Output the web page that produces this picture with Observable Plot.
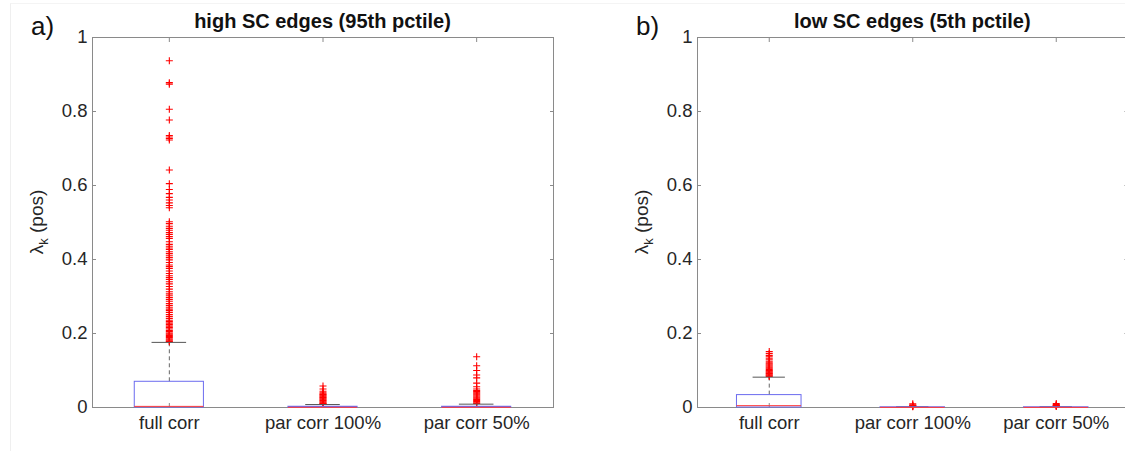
<!DOCTYPE html>
<html>
<head>
<meta charset="utf-8">
<script src="https://cdn.jsdelivr.net/npm/d3@7"></script>
<script src="https://cdn.jsdelivr.net/npm/@observablehq/plot@0.6"></script>
<style>
  html, body { margin: 0; padding: 0; background: #fff; overflow: hidden; width: 1125px; height: 451px; }
  #wrap { position: relative; width: 1125px; height: 451px; overflow: hidden; background: #fff; }
  #edge { position: absolute; left: 10px; top: 3px; right: 0; bottom: 0; border-left: 1px solid #efefef; border-top: 1px solid #f4f4f4; }
  #pa { position: absolute; left: 0; top: 0; width: 570px; height: 451px; }
  #pb { position: absolute; left: 560px; top: 0; width: 580px; height: 451px; }
  #pa svg, #pb svg { max-width: none !important; height: 451px !important; }
  svg g[aria-label="y-axis tick"], svg g[aria-label="x-axis tick"] { stroke: #8a8a8a; }
</style>
</head>
<body>
<div id="wrap"><div id="edge"></div><div id="pa"></div><div id="pb"></div></div>
<script>
// ---------- data ----------
const categories = ["full corr", "par corr 100%", "par corr 50%"];
const yTicks = [0, 0.2, 0.4, 0.6, 0.8, 1];

// panel a: high SC edges
const titleA = "high SC edges (95th pctile)";
const tagA = "a)";
const q1A = [0, 0, 0];
const medianA = [0.003, 0.0005, 0.0005];
const q3A = [0.0695, 0.002, 0.002];
const whiskerLoA = [0, 0, 0];
const whiskerHiA = [0.176, 0.008, 0.009];
const outliersFullA = [0.937, 0.878, 0.874, 0.806, 0.777, 0.735, 0.731, 0.727, 0.723, 0.642, 0.605, 0.589, 0.578, 0.568, 0.561, 0.553, 0.546, 0.540,
  0.502, 0.497, 0.490, 0.484, 0.479, 0.473, 0.468, 0.462, 0.457, 0.448, 0.441, 0.436, 0.431, 0.427, 0.421, 0.416, 0.410, 0.405, 0.399, 0.392,
  0.385, 0.381, 0.376, 0.369, 0.362, 0.356, 0.351, 0.346, 0.340, 0.334, 0.327, 0.320, 0.313, 0.307, 0.302, 0.297, 0.292, 0.287, 0.281, 0.276,
  0.271, 0.266, 0.262, 0.257, 0.251, 0.246, 0.241, 0.236, 0.232, 0.228, 0.224, 0.220, 0.216, 0.212, 0.208, 0.205, 0.201, 0.198, 0.195, 0.192,
  0.189, 0.186, 0.183, 0.180, 0.178];
const outliersPar100A = [0.058, 0.050, 0.044, 0.040, 0.037, 0.035, 0.033, 0.031, 0.029, 0.027, 0.025, 0.023, 0.021, 0.019, 0.017, 0.015, 0.013, 0.011, 0.010];
const outliersPar50A = [0.137, 0.113, 0.100, 0.088, 0.080, 0.066, 0.056, 0.050, 0.046, 0.043, 0.040, 0.037, 0.034, 0.031, 0.028, 0.025, 0.022, 0.019, 0.016, 0.013, 0.011];

// panel b: low SC edges
const titleB = "low SC edges (5th pctile)";
const tagB = "b)";
const q1B = [0, 0, 0];
const medianB = [0.005, 0.0003, 0.0003];
const q3B = [0.0335, 0.0006, 0.0006];
const whiskerLoB = [0, 0, 0];
const whiskerHiB = [0.082, 0.002, 0.002];
const outliersFullB = [0.151, 0.146, 0.141, 0.137, 0.133, 0.129, 0.125, 0.121, 0.118, 0.115, 0.112, 0.109, 0.106, 0.103, 0.100, 0.098, 0.096, 0.094, 0.092, 0.090, 0.088, 0.086, 0.084];
const outliersPar100B = [0.010, 0.007, 0.005, 0.004, 0.003, 0.002];
const outliersPar50B = [0.011, 0.008, 0.006, 0.005, 0.004, 0.003];

// ---------- styling ----------
const axisColor = "#8a8a8a";
const textColor = "#262626";
const boxColor = "#6b6bef";
const medianColor = "#ff3b3b";
const whiskerColor = "#666";
const capColor = "#555";
const outlierColor = "#ff0000";
const boxHalf = 0.225;
const capHalf = 0.1125;
const font = "'Liberation Sans', Arial, Helvetica, sans-serif";
const tickFont = 18.5;
const titleFont = 20;
const H = 451, MT = 37, MB = 44;

function panel(cfg) {
  const boxes = categories.map((c, i) => ({
    pos: i + 1, q1: cfg.q1[i], med: cfg.median[i], q3: cfg.q3[i], lo: cfg.lo[i], hi: cfg.hi[i]
  }));
  const outs = cfg.outliers.flatMap((vals, i) => vals.map(v => ({pos: i + 1, value: v})));
  const svg = Plot.plot({
    width: cfg.width,
    height: H,
    marginLeft: cfg.marginLeft,
    marginRight: cfg.marginRight,
    marginTop: MT,
    marginBottom: MB,
    x: {domain: [0.5, 3.5]},
    y: {domain: [0, 1]},
    style: {fontFamily: font, fontSize: tickFont + "px", color: textColor, background: "transparent", overflow: "visible"},
    marks: [
      Plot.frame({stroke: axisColor}),
      Plot.axisY(yTicks, {anchor: "left", tickSize: -4, tickPadding: 9, tickFormat: d => String(d), fontSize: tickFont, label: null}),
      Plot.axisY(yTicks, {anchor: "right", tickSize: -4, tickFormat: () => "", label: null}),
      Plot.axisX([1, 2, 3], {anchor: "bottom", tickSize: -4, tickPadding: 12, tickFormat: i => categories[i - 1], fontSize: tickFont, label: null}),
      Plot.axisX([1, 2, 3], {anchor: "top", tickSize: -4, tickFormat: () => "", label: null}),
      Plot.ruleX(boxes, {x: "pos", y1: "q3", y2: "hi", stroke: whiskerColor, strokeDasharray: "4,3"}),
      Plot.ruleX(boxes, {x: "pos", y1: "lo", y2: "q1", stroke: whiskerColor, strokeDasharray: "4,3"}),
      Plot.dot(outs, {x: "pos", y: "value", symbol: "plus", r: 2.4, stroke: outlierColor, strokeWidth: 1.1}),
      Plot.ruleY(boxes, {y: "hi", x1: d => d.pos - capHalf, x2: d => d.pos + capHalf, stroke: capColor}),
      Plot.rect(boxes, {x1: d => d.pos - boxHalf, x2: d => d.pos + boxHalf, y1: "q1", y2: "q3", stroke: boxColor, fill: "none"}),
      Plot.ruleY(boxes, {y: "med", x1: d => d.pos - boxHalf, x2: d => d.pos + boxHalf, stroke: medianColor})
    ]
  });
  const s = d3.select(svg);
  const plotLeft = cfg.marginLeft, plotRight = cfg.width - cfg.marginRight;
  // title
  s.append("text")
    .attr("x", (plotLeft + plotRight) / 2).attr("y", 28)
    .attr("text-anchor", "middle")
    .attr("font-family", font).attr("font-size", titleFont).attr("font-weight", "bold")
    .attr("fill", "#111")
    .text(cfg.title);
  // panel tag
  s.append("text")
    .attr("x", plotLeft - 61).attr("y", 35)
    .attr("text-anchor", "start")
    .attr("font-family", font).attr("font-size", 26)
    .attr("fill", "#111")
    .text(cfg.tag);
  // y-axis label with subscript
  const cy = MT + (H - MT - MB) / 2;
  const t = s.append("text")
    .attr("transform", `translate(${plotLeft - 49},${cy}) rotate(-90)`)
    .attr("text-anchor", "middle")
    .attr("fill", textColor)
    .attr("font-family", font)
    .attr("font-size", 19);
  t.append("tspan").text("λ");
  t.append("tspan").attr("dy", 5).attr("font-size", 13).text("k");
  t.append("tspan").attr("dy", -5).text(" (pos)");
  return svg;
}

document.getElementById("pa").appendChild(panel({
  width: 570, marginLeft: 92, marginRight: 17,
  title: titleA, tag: tagA,
  q1: q1A, median: medianA, q3: q3A, lo: whiskerLoA, hi: whiskerHiA,
  outliers: [outliersFullA, outliersPar100A, outliersPar50A]
}));
document.getElementById("pb").appendChild(panel({
  width: 580, marginLeft: 137, marginRight: 12.5,
  title: titleB, tag: tagB,
  q1: q1B, median: medianB, q3: q3B, lo: whiskerLoB, hi: whiskerHiB,
  outliers: [outliersFullB, outliersPar100B, outliersPar50B]
}));
</script>
</body>
</html>
